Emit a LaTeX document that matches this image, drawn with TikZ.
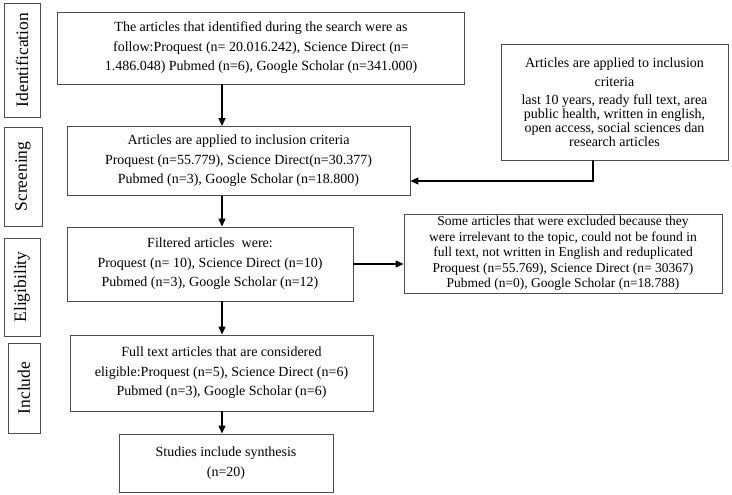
\documentclass[tikz,border=0pt]{standalone}
\usepackage{fontspec}
\setmainfont{Liberation Serif}
\usetikzlibrary{arrows.meta}
\begin{document}
\begin{tikzpicture}[x=1pt,y=-1pt,
  box/.style={draw=black!70,line width=0.9pt,align=center,inner sep=1pt,font=\fontsize{14}{19.5}\selectfont},
  side/.style={draw=black!70,line width=0.9pt,rotate=90,inner sep=0pt,font=\fontsize{17.5}{19}\selectfont},
  arr/.style={-{Triangle[length=8pt,width=7pt]},line width=1.1pt,black}]
\useasboundingbox (0,0) rectangle (732,495);
\node[side,minimum width=114,minimum height=36] (sid) at (22,60) {Identification};
\node[side,minimum width=99,minimum height=38] (ssc) at (23,176.5) {Screening};
\node[side,minimum width=98,minimum height=36] (sel) at (22,287) {Eligibility};
\node[side,minimum width=90,minimum height=32] (sin) at (24,388) {Include};
\node[box,minimum width=407,minimum height=72] (ident) at (261,48) {The articles that identified during the search were as\\ follow:Proquest (n= 20.016.242), Science Direct (n=\\ 1.486.048) Pubmed (n=6), Google Scholar (n=341.000)};
\node[box,minimum width=343,minimum height=69] (scr) at (238.5,161) {Articles are applied to inclusion criteria\\ Proquest (n=55.779), Science Direct(n=30.377)\\ Pubmed (n=3), Google Scholar (n=18.800)};
\node[box,minimum width=286,minimum height=74] (filt) at (210,264) {Filtered articles~ were:\\ Proquest (n= 10), Science Direct (n=10)\\ Pubmed (n=3), Google Scholar (n=12)};
\node[box,minimum width=303,minimum height=76] (full) at (221.5,373) {Full text articles that are considered\\ eligible:Proquest (n=5), Science Direct (n=6)\\ Pubmed (n=3), Google Scholar (n=6)};
\node[box,minimum width=214,minimum height=58] (stud) at (226,463) {Studies include synthesis\\ (n=20)};
\node[box,minimum width=227,minimum height=116,font=\fontsize{14}{14}\selectfont] (crit) at (614.5,102) {Articles are applied to inclusion\\[5pt] criteria\\[4pt] last 10 years, ready full text, area\\ public health, written in english,\\ open access, social sciences dan\\ research articles};
\node[box,minimum width=318,minimum height=79,inner sep=0pt,font=\fontsize{13.5}{15.5}\selectfont] (excl) at (563,253.5) {Some articles that were excluded because they\\ were irrelevant to the topic, could not be found in\\ full text, not written in English and reduplicated\\ Proquest (n=55.769), Science Direct (n= 30367)\\ Pubmed (n=0), Google Scholar (n=18.788)};
\draw[arr] (ident.south -| 222,0) -- (scr.north -| 222,0);
\draw[arr] (scr.south -| 222,0) -- (filt.north -| 222,0);
\draw[arr] (filt.south -| 222,0) -- (full.north -| 222,0);
\draw[arr] (full.south -| 222,0) -- (stud.north -| 222,0);
\draw[arr] (crit.south -| 593,0) |- (scr.east |- 0,181);
\draw[arr] (filt.east) -- (excl.west |- filt.east);
\end{tikzpicture}
\end{document}
